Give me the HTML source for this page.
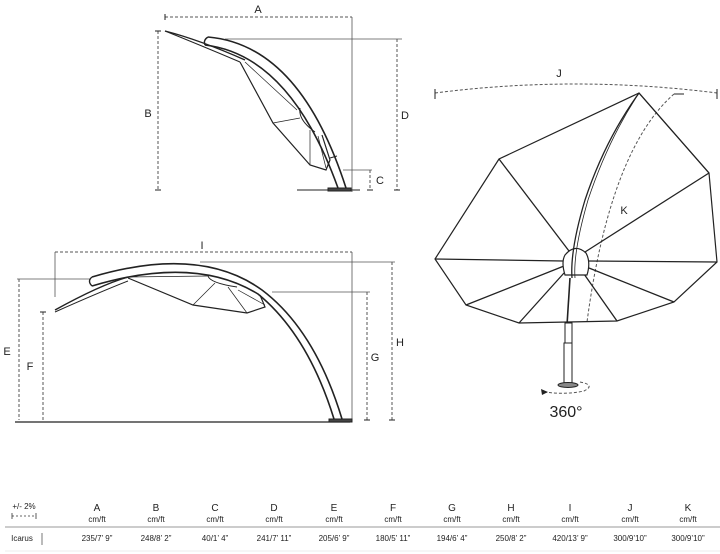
<!DOCTYPE html>
<html><head><meta charset="utf-8"><style>
html,body{margin:0;padding:0;background:#fff;}
svg{display:block;font-family:"Liberation Sans",sans-serif;}
</style></head><body>
<svg width="720" height="554" viewBox="0 0 720 554" xmlns="http://www.w3.org/2000/svg">
<g fill="none" stroke="#222" stroke-width="1">
<!-- TOP SIDE VIEW -->
<line x1="165" y1="17" x2="352" y2="17" stroke-dasharray="3,2" stroke="#555"/>
<line x1="165" y1="14" x2="165" y2="20"/>
<line x1="352" y1="17" x2="352" y2="192" stroke="#555" stroke-width="0.8"/>
<line x1="158" y1="31" x2="158" y2="190" stroke-dasharray="3,2" stroke="#555"/>
<line x1="155" y1="31" x2="161" y2="31"/><line x1="155" y1="190" x2="161" y2="190"/>
<line x1="225" y1="39" x2="402" y2="39" stroke="#555" stroke-width="0.8"/>
<line x1="397" y1="39" x2="397" y2="190" stroke-dasharray="3,2" stroke="#555"/>
<line x1="394" y1="190" x2="400" y2="190"/>
<line x1="343" y1="170" x2="372" y2="170" stroke="#555" stroke-width="0.8"/>
<line x1="370" y1="170" x2="370" y2="190" stroke-dasharray="3,2" stroke="#555"/>
<line x1="367" y1="190" x2="373" y2="190"/>
<line x1="297" y1="190" x2="360" y2="190"/>
<rect x="328" y="188" width="23" height="3" fill="#444"/>
<!-- arm -->
<path d="M208,37 Q300,45 346,188" stroke-width="1.6"/>
<path d="M205,45 Q290,55 338,188" stroke-width="1.6"/>
<path d="M208,37 Q203,40 205,45" stroke-width="1.4"/>
<path d="M165,31 Q200,40 245,60" stroke-width="1.4"/>
<path d="M165,31 Q200,45 240,62" stroke-width="1"/>
<path d="M240,62 L273,123 L310,165 L326,170 L330,160 L322,135" stroke-width="1.2"/>
<line x1="273" y1="123" x2="300" y2="118" stroke-width="0.7"/>
<line x1="245" y1="62" x2="297" y2="110" stroke-width="0.7"/>
<path d="M300,108 Q298,120 315,132" stroke-width="1"/>
<line x1="310" y1="130" x2="310" y2="165" stroke-width="0.7"/>
<line x1="318" y1="136" x2="326" y2="168" stroke-width="0.7"/>
<line x1="330" y1="158" x2="337" y2="156" stroke-width="1"/>

<!-- BOTTOM SIDE VIEW -->
<line x1="55" y1="252" x2="352" y2="252" stroke-dasharray="3,2" stroke="#555"/>
<line x1="55" y1="252" x2="55" y2="297" stroke="#555" stroke-width="0.8"/>
<line x1="352" y1="252" x2="352" y2="422" stroke="#555" stroke-width="0.8"/>
<line x1="200" y1="262" x2="395" y2="262" stroke="#555" stroke-width="0.8"/>
<line x1="392" y1="262" x2="392" y2="420" stroke-dasharray="3,2" stroke="#555"/>
<line x1="389" y1="420" x2="395" y2="420"/>
<line x1="272" y1="292" x2="370" y2="292" stroke="#555" stroke-width="0.8"/>
<line x1="367" y1="292" x2="367" y2="420" stroke-dasharray="3,2" stroke="#555"/>
<line x1="364" y1="420" x2="370" y2="420"/>
<line x1="17" y1="279" x2="90" y2="279" stroke="#555" stroke-width="0.8"/>
<line x1="19" y1="279" x2="19" y2="420" stroke-dasharray="3,2" stroke="#555"/>
<line x1="43" y1="312" x2="43" y2="420" stroke-dasharray="3,2" stroke="#555"/>
<line x1="40" y1="312" x2="46" y2="312"/>
<line x1="15" y1="422" x2="350" y2="422" stroke-width="1.2"/>
<rect x="329" y="419" width="23" height="3" fill="#444"/>
<path d="M92,277 Q200,245 262,290 Q315,330 342,419" stroke-width="1.6"/>
<path d="M92,286 Q195,255 258,294 Q308,335 334,419" stroke-width="1.6"/>
<path d="M92,277 Q87,281 92,286" stroke-width="1.4"/>
<path d="M55,310 Q100,285 128,277" stroke-width="1.4"/>
<path d="M55,312 Q100,292 128,281" stroke-width="1"/>
<path d="M128,278 L193,305 L247,313 L265,307 L260,295" stroke-width="1.2"/>
<line x1="128" y1="277" x2="208" y2="276" stroke-width="0.7"/>
<path d="M208,276 Q210,283 237,287" stroke-width="1"/>
<line x1="193" y1="305" x2="215" y2="283" stroke-width="0.7"/>
<line x1="228" y1="287" x2="247" y2="313" stroke-width="0.7"/>
<line x1="238" y1="290" x2="265" y2="305" stroke-width="0.7"/>

<!-- TOP VIEW -->
<path d="M435,93 Q575,75 717,93" stroke-dasharray="3,2" stroke="#555"/>
<line x1="435" y1="89" x2="435" y2="99"/><line x1="717" y1="89" x2="717" y2="99"/>
<line x1="674" y1="94" x2="684" y2="94"/>
<path d="M674,94 Q610,150 587,322" stroke-dasharray="3,2" stroke="#555"/>
<path d="M639,93 L499,159 L435,259 L466,305 L519,323 L617,321 L674,302 L717,262 L709,173 Z" stroke-width="1.2"/>
<line x1="639" y1="93" x2="709" y2="173" stroke-width="1.2"/>
<line x1="499" y1="159" x2="569" y2="251" stroke-width="1.3"/>
<line x1="435" y1="259" x2="563" y2="261" stroke-width="1.3"/>
<line x1="466" y1="305" x2="564" y2="266" stroke-width="1.3"/>
<line x1="519" y1="323" x2="564" y2="273" stroke-width="1.3"/>
<line x1="617" y1="321" x2="584" y2="274" stroke-width="1.3"/>
<line x1="674" y1="302" x2="589" y2="268" stroke-width="1.3"/>
<line x1="717" y1="262" x2="589" y2="261" stroke-width="1.3"/>
<line x1="709" y1="173" x2="585" y2="252" stroke-width="1.3"/>
<path d="M565,275 Q561,262 565,255 Q575,243 586,253 Q591,262 587,275 Z" fill="#fff" stroke-width="1.2"/>
<path d="M572,278 Q570,250 585,200 Q605,140 639,93" stroke-width="1.3"/>
<path d="M575,278 Q573,252 588,200 Q608,140 639,93" stroke-width="0.8"/>
<line x1="570" y1="278" x2="567" y2="325" stroke-width="1.6"/>
<rect x="565" y="323" width="7" height="45" fill="#fff"/>
<rect x="564" y="343" width="8" height="40" fill="#fff"/>
<ellipse cx="568" cy="385" rx="10" ry="2.5" fill="#888"/>
<path d="M580,382 Q596,385 584,391 Q565,395 545,392" stroke-dasharray="3,2" stroke="#555"/>
<path d="M541,389 L548,392 L542,395 Z" fill="#222" stroke="none"/>
</g>
<g fill="#222" font-size="11" text-anchor="middle">
<text x="258" y="13">A</text>
<text x="148" y="117">B</text>
<text x="405" y="119">D</text>
<text x="380" y="184">C</text>
<text x="202" y="249">I</text>
<text x="400" y="346">H</text>
<text x="375" y="361">G</text>
<text x="7" y="355">E</text>
<text x="30" y="370">F</text>
<text x="559" y="77">J</text>
<text x="624" y="214">K</text>
<text x="566" y="417" font-size="16">360°</text>
</g>
<g fill="#222" text-anchor="middle" font-size="10">
<text x="24" y="509" font-size="8">+/- 2%</text>
<g stroke="#333" stroke-width="0.8"><line x1="12" y1="516" x2="36" y2="516" stroke-dasharray="2,2"/><line x1="12" y1="513" x2="12" y2="519"/><line x1="36" y1="513" x2="36" y2="519"/></g>
<text x="97" y="511">A</text><text x="156" y="511">B</text><text x="215" y="511">C</text><text x="274" y="511">D</text><text x="334" y="511">E</text><text x="393" y="511">F</text><text x="452" y="511">G</text><text x="511" y="511">H</text><text x="570" y="511">I</text><text x="630" y="511">J</text><text x="688" y="511">K</text>
<g font-size="8"><text x="97" y="522">cm/ft</text><text x="156" y="522">cm/ft</text><text x="215" y="522">cm/ft</text><text x="274" y="522">cm/ft</text><text x="334" y="522">cm/ft</text><text x="393" y="522">cm/ft</text><text x="452" y="522">cm/ft</text><text x="511" y="522">cm/ft</text><text x="570" y="522">cm/ft</text><text x="630" y="522">cm/ft</text><text x="688" y="522">cm/ft</text></g>
<line x1="5" y1="527" x2="720" y2="527" stroke="#777" stroke-width="0.8"/>
<line x1="42" y1="533" x2="42" y2="545" stroke="#555" stroke-width="0.8"/>
<g font-size="8"><text x="22" y="541">Icarus</text>
<text x="97" y="541">235/7’ 9”</text><text x="156" y="541">248/8’ 2”</text><text x="215" y="541">40/1’ 4”</text><text x="274" y="541">241/7’ 11”</text><text x="334" y="541">205/6’ 9”</text><text x="393" y="541">180/5’ 11”</text><text x="452" y="541">194/6’ 4”</text><text x="511" y="541">250/8’ 2”</text><text x="570" y="541">420/13’ 9”</text><text x="630" y="541">300/9’10”</text><text x="688" y="541">300/9’10”</text></g>
<line x1="5" y1="551" x2="720" y2="551" stroke="#eee" stroke-width="1"/>
</g>
</svg>
</body></html>
